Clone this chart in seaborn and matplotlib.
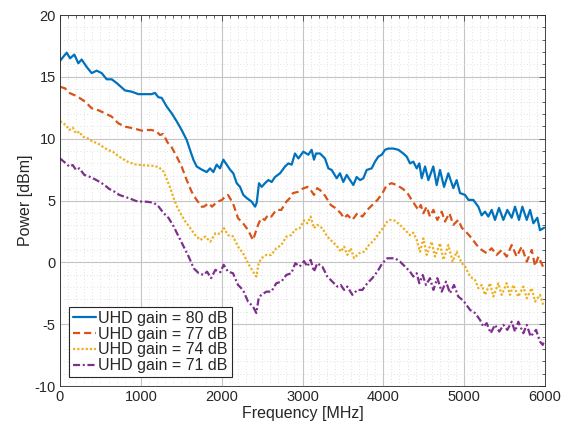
import numpy as np
import pandas as pd
import matplotlib
matplotlib.use("Agg")
import matplotlib.pyplot as plt
from matplotlib.ticker import MultipleLocator
import seaborn as sns

# ---- data ----
series_labels = ["UHD gain = 80 dB", "UHD gain = 77 dB", "UHD gain = 74 dB", "UHD gain = 71 dB"]

f80 = [0, 83, 124, 177, 227, 268, 330, 392, 454, 516, 578, 640, 701, 804, 887, 969, 1052, 1134, 1175,
       1217, 1258, 1320, 1382, 1444, 1505, 1567, 1608, 1650, 1691, 1753, 1815, 1856, 1897, 1938, 1979,
       2021, 2062, 2103, 2144, 2186, 2227, 2268, 2310, 2372, 2413, 2433, 2462, 2495, 2536, 2577, 2619,
       2660, 2722, 2784, 2825, 2866, 2907, 2949, 3010, 3072, 3113, 3142, 3167, 3217, 3278, 3320, 3361,
       3423, 3464, 3505, 3547, 3588, 3629, 3670, 3712, 3753, 3794, 3856, 3897, 3938, 3980, 4021, 4062,
       4124, 4186, 4247, 4289, 4330, 4371, 4413, 4445, 4475, 4516, 4557, 4618, 4660, 4701, 4751, 4804,
       4866, 4907, 4949, 5011, 5052, 5113, 5175, 5216, 5258, 5299, 5340, 5381, 5431, 5485, 5534, 5588,
       5629, 5678, 5720, 5774, 5815, 5856, 5905, 5938, 5990]
p80 = [16.3, 16.95, 16.5, 16.8, 16.1, 16.4, 15.8, 15.3, 15.5, 15.3, 14.8, 14.8, 14.5, 13.9, 13.8, 13.6,
       13.6, 13.6, 13.7, 13.35, 13.3, 12.6, 12.05, 11.4, 10.7, 9.9, 9.1, 8.3, 7.75, 7.5, 7.3, 7.6, 7.3,
       7.9, 7.6, 8.3, 7.9, 7.5, 7.2, 6.4, 6.1, 5.45, 5.2, 4.9, 4.5, 4.8, 6.4, 6.1, 6.4, 6.65, 6.5, 6.9,
       7.2, 7.75, 8.0, 7.9, 8.8, 8.4, 8.95, 8.7, 9.1, 8.3, 8.8, 8.8, 8.4, 7.6, 7.47, 6.8, 7.2, 6.5, 7.07,
       6.65, 6.25, 6.9, 6.65, 6.8, 7.47, 7.6, 8.14, 8.55, 8.7, 9.1, 9.2, 9.2, 9.1, 8.8, 8.55, 8.0, 8.14,
       7.6, 8.0, 6.8, 7.75, 6.65, 7.75, 6.25, 7.47, 6.1, 7.2, 6.0, 6.65, 5.6, 5.45, 5.05, 5.05, 4.5, 3.8,
       4.1, 3.7, 4.24, 3.43, 4.4, 3.43, 4.24, 3.6, 4.5, 3.43, 4.5, 3.43, 4.24, 3.16, 3.6, 2.6, 2.8]

f77 = [0, 62, 124, 186, 247, 309, 392, 474, 557, 640, 722, 804, 907, 1011, 1076, 1134, 1196, 1237, 1278,
       1330, 1382, 1444, 1505, 1567, 1629, 1691, 1753, 1778, 1840, 1881, 1943, 2004, 2040, 2078, 2140,
       2202, 2264, 2326, 2367, 2388, 2429, 2458, 2491, 2532, 2573, 2614, 2676, 2738, 2800, 2841, 2883,
       2944, 3000, 3060, 3101, 3142, 3183, 3245, 3287, 3349, 3411, 3473, 3514, 3555, 3617, 3679, 3741,
       3802, 3864, 3926, 3988, 4042, 4103, 4165, 4227, 4289, 4351, 4392, 4433, 4463, 4495, 4536, 4577,
       4619, 4668, 4722, 4763, 4817, 4866, 4928, 4970, 5032, 5093, 5155, 5217, 5279, 5340, 5402, 5464,
       5526, 5588, 5650, 5712, 5774, 5836, 5877, 5918, 5985]
p77 = [14.2, 14.07, 13.67, 13.5, 13.27, 13.0, 12.46, 12.3, 12.05, 11.78, 11.24, 10.97, 10.84, 10.65,
       10.7, 10.7, 10.57, 10.3, 10.38, 9.7, 9.3, 8.55, 7.74, 6.66, 5.7, 5.04, 4.5, 4.5, 4.78, 4.5, 4.9,
       5.04, 5.3, 5.45, 4.78, 3.57, 3.16, 2.62, 2.08, 1.8, 2.62, 3.16, 3.57, 3.43, 3.83, 3.7, 4.24, 4.24,
       4.9, 5.18, 5.6, 5.7, 5.95, 6.1, 5.85, 5.45, 6.0, 5.7, 5.3, 4.64, 4.37, 3.97, 3.57, 3.83, 3.43,
       3.97, 3.7, 4.24, 4.64, 5.04, 5.58, 6.25, 6.4, 6.25, 6.0, 5.7, 5.04, 4.64, 4.24, 4.64, 3.97, 4.5,
       3.7, 4.24, 3.43, 4.1, 3.3, 3.97, 3.03, 3.43, 2.8, 2.4, 1.95, 1.4, 1.0, 0.74, 1.14, 0.6, 1.0, 0.46,
       1.4, 0.46, 1.27, 0.06, 1.0, -0.3, 0.46, -0.48]

f74 = [0, 74, 115, 157, 198, 239, 280, 342, 404, 466, 528, 590, 652, 714, 776, 837, 920, 1030, 1159,
       1221, 1283, 1324, 1365, 1406, 1448, 1489, 1551, 1613, 1674, 1736, 1798, 1860, 1922, 1984, 2030,
       2078, 2140, 2202, 2264, 2326, 2388, 2429, 2458, 2491, 2553, 2614, 2676, 2738, 2800, 2862, 2903,
       2965, 3019, 3060, 3101, 3142, 3183, 3245, 3307, 3369, 3431, 3473, 3514, 3555, 3597, 3638, 3700,
       3762, 3823, 3885, 3947, 4009, 4049, 4083, 4145, 4206, 4268, 4330, 4371, 4413, 4454, 4495, 4536,
       4598, 4639, 4701, 4743, 4804, 4858, 4907, 4970, 5011, 5073, 5134, 5175, 5217, 5258, 5320, 5361,
       5423, 5464, 5526, 5567, 5608, 5670, 5732, 5774, 5836, 5877, 5938, 5985]
p74 = [11.4, 11.1, 10.7, 10.9, 10.43, 10.57, 10.16, 10.03, 9.76, 9.63, 9.35, 9.09, 8.95, 8.63, 8.36,
       8.14, 7.93, 7.85, 7.8, 7.7, 7.33, 6.66, 6.0, 5.18, 4.5, 3.97, 3.3, 2.76, 2.2, 1.8, 2.08, 1.67,
       2.35, 2.3, 2.76, 2.2, 2.1, 1.27, 0.74, -0.07, -0.75, -1.15, -0.07, 0.33, 0.6, 0.6, 1.14, 1.4,
       2.08, 2.2, 2.62, 2.76, 3.4, 3.16, 3.7, 2.76, 3.03, 2.76, 2.08, 1.67, 1.27, 0.86, 1.27, 0.6, 1.14,
       0.33, 0.74, 0.86, 1.4, 1.8, 2.35, 2.9, 3.3, 3.43, 3.37, 3.03, 2.62, 2.2, 2.4, 1.8, 0.86, 1.94,
       0.6, 1.67, 0.46, 1.54, 0.2, 1.4, 0.06, 0.86, -0.07, -0.34, -1.15, -1.42, -2.09, -1.83, -2.63,
       -1.69, -2.77, -1.69, -2.63, -1.69, -2.63, -1.83, -2.77, -1.96, -2.9, -2.09, -3.17, -2.63, -3.58]

f71 = [0, 74, 115, 157, 198, 239, 301, 363, 425, 487, 549, 610, 672, 734, 796, 858, 940, 1023, 1076,
       1159, 1221, 1283, 1345, 1406, 1468, 1530, 1592, 1654, 1716, 1778, 1819, 1869, 1922, 1984, 2025,
       2078, 2140, 2202, 2264, 2326, 2388, 2429, 2458, 2491, 2553, 2614, 2676, 2738, 2800, 2862, 2911,
       2965, 3019, 3060, 3101, 3142, 3183, 3245, 3307, 3369, 3431, 3473, 3514, 3555, 3617, 3679, 3741,
       3802, 3864, 3926, 3988, 4049, 4083, 4145, 4206, 4268, 4330, 4371, 4413, 4445, 4487, 4528, 4577,
       4619, 4668, 4722, 4775, 4825, 4874, 4928, 4990, 5040, 5073, 5134, 5196, 5237, 5279, 5328, 5381,
       5435, 5485, 5534, 5588, 5629, 5670, 5732, 5774, 5823, 5889, 5938, 5972, 5990]
p71 = [8.4, 8.0, 7.74, 7.87, 7.47, 7.6, 7.07, 6.93, 6.74, 6.52, 6.26, 5.93, 5.72, 5.45, 5.31, 5.18,
       4.96, 4.9, 4.9, 4.82, 4.5, 3.97, 3.57, 2.9, 2.08, 1.27, 0.46, -0.48, -0.88, -1.02, -0.75, -1.28,
       -0.61, -0.8, -0.2, -0.75, -0.88, -1.83, -2.23, -3.17, -3.58, -4.1, -2.9, -2.63, -2.37, -2.37,
       -1.69, -1.56, -1.02, -0.88, -0.07, -0.34, 0.1, -0.34, 0.2, -0.75, -0.07, -0.34, -1.15, -1.56,
       -1.96, -1.83, -2.23, -1.96, -2.63, -2.23, -2.23, -1.69, -1.28, -0.75, -0.07, 0.33, 0.33, 0.33,
       0.06, -0.34, -0.75, -1.15, -0.88, -1.69, -1.02, -1.83, -1.28, -2.23, -1.28, -2.37, -1.56, -2.5,
       -1.83, -2.77, -3.1, -3.55, -3.85, -4.1, -4.65, -5.2, -4.92, -5.73, -5.06, -5.6, -5.06, -5.46,
       -4.8, -5.6, -4.8, -5.73, -5.06, -6.0, -5.46, -6.41, -6.68, -6.27]

x_ticks = [0, 1000, 2000, 3000, 4000, 5000, 6000]
y_ticks = [-10, -5, 0, 5, 10, 15, 20]

frames = []
for lab, f, p in zip(series_labels, [f80, f77, f74, f71], [p80, p77, p74, p71]):
    frames.append(pd.DataFrame({"Frequency": f, "Power": p, "Series": lab}))
df = pd.concat(frames, ignore_index=True)

# ---- style ----
sns.set_style("white")
plt.rcParams["font.family"] = ["Liberation Sans", "DejaVu Sans"]
plt.rcParams["axes.unicode_minus"] = False

colors = ["#0072BD", "#D95319", "#EDB120", "#7E2F8E"]
styles = ["-", (0, (3.2, 1.8)), (0, (1.0, 0.9)), (0, (3.2, 1.2, 0.9, 1.2))]

fig = plt.figure(figsize=(5.78, 4.28), dpi=100)
ax = fig.add_axes([60 / 578, 1 - 386 / 428, 485 / 578, 371 / 428])

for lab, c, ls in zip(series_labels, colors, styles):
    sub = df[df["Series"] == lab]
    sns.lineplot(data=sub, x="Frequency", y="Power", color=c, linestyle=ls,
                 linewidth=1.6, estimator=None, sort=False, label=lab, ax=ax)

ax.set_xlim(0, 6000)
ax.set_ylim(-10, 20)
ax.set_xticks(x_ticks)
ax.set_yticks(y_ticks)
ax.xaxis.set_minor_locator(MultipleLocator(100))
ax.yaxis.set_minor_locator(MultipleLocator(1))

ax.grid(True, which="major", color="#c4c4c4", linewidth=0.8, linestyle="-")
ax.grid(True, which="minor", color="#d6d6d6", linewidth=0.6, linestyle=(0, (1, 3)))
ax.set_axisbelow(True)

for s in ax.spines.values():
    s.set_visible(True)
    s.set_color("#262626")
    s.set_linewidth(0.6)

ax.tick_params(axis="both", which="both", direction="in", top=True, right=True,
               colors="#262626", labelcolor="#262626", width=0.5)
ax.tick_params(axis="both", which="major", length=4, labelsize=10.5, pad=3)
ax.tick_params(axis="both", which="minor", length=2)

ax.set_xlabel("Frequency [MHz]", fontsize=11.5, color="#262626", labelpad=1)
ax.set_ylabel("Power [dBm]", fontsize=11.5, color="#262626", labelpad=1)

leg = ax.legend(loc="lower left", fontsize=11.5, frameon=True, fancybox=False,
                handlelength=1.45, handletextpad=0.15, labelspacing=0.05,
                borderpad=0.25, borderaxespad=0.55)
leg.get_frame().set_edgecolor("#262626")
leg.get_frame().set_linewidth(0.8)
leg.get_frame().set_alpha(1.0)

fig.savefig("out.png", dpi=100)
